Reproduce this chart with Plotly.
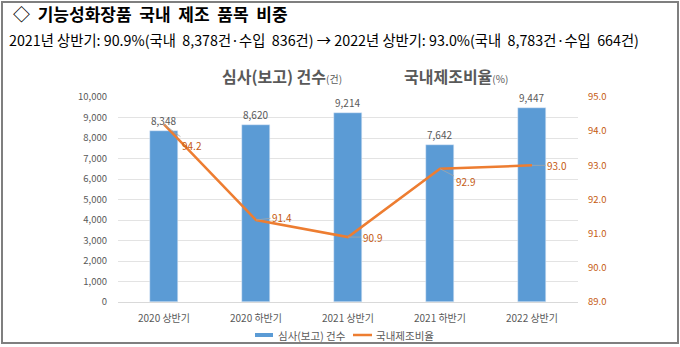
import plotly.graph_objects as go

categories = ["2020 상반기", "2020 하반기", "2021 상반기", "2021 하반기", "2022 상반기"]
counts = [8348, 8620, 9214, 7642, 9447]
ratio = [94.2, 91.4, 90.9, 92.9, 93.0]
# label offsets (px) for the ratio data labels, as placed in the reference
label_dx = [28, 26, 24, 25, 25]
label_dy = [21, -3, 0, 13, 0]

FONT = "Noto Sans CJK KR"
BAR = "#5B9BD5"
LINE = "#ED7D31"
ORANGE_TXT = "#C55A11"
GRAY_TXT = "#595959"

L, R, T, B = 118, 102, 97, 45
PW, PH = 680 - L - R, 347 - T - B
SP2 = "&nbsp;&nbsp;"


def px(x):
    return (x - L) / PW


def py(y):
    return (347 - B - y) / PH


fig = go.Figure()
fig.add_trace(go.Bar(
    x=categories, y=counts, name="심사(보고) 건수",
    marker=dict(color=BAR), width=0.31,
    texttemplate="%{y:,}", textposition="outside",
    textfont=dict(color=GRAY_TXT, size=10, family=FONT),
    cliponaxis=False,
))
fig.add_trace(go.Scatter(
    x=categories, y=ratio, name="국내제조비율", yaxis="y2",
    mode="lines", line=dict(color=LINE, width=2.5),
))

annotations = []
for c, v, dx, dy in zip(categories, ratio, label_dx, label_dy):
    annotations.append(dict(
        x=c, y=v, xref="x", yref="y2", text=f"{v:.1f}",
        showarrow=True, arrowhead=0, arrowwidth=0.8, arrowcolor="#A6A6A6",
        ax=dx, ay=dy, standoff=0,
        font=dict(color=ORANGE_TXT, size=10, family=FONT),
    ))

# header texts
annotations.append(dict(
    xref="paper", yref="paper", x=px(11), y=py(13),
    xanchor="left", yanchor="middle", showarrow=False,
    text="<b>◇" + SP2 + "기능성화장품" + SP2 + "국내" + SP2 + "제조" + SP2 + "품목" + SP2 + "비중</b>",
    font=dict(size=17, color="#000000", family=FONT),
))
annotations.append(dict(
    xref="paper", yref="paper", x=px(7), y=py(40),
    xanchor="left", yanchor="middle", showarrow=False,
    text="2021년 상반기: 90.9%(국내" + SP2 + "8,378건·수입" + SP2 + "836건) → 2022년 상반기: 93.0%(국내"
         + SP2 + "8,783건·수입" + SP2 + "664건)",
    font=dict(size=14.3, color="#000000", family=FONT),
))
annotations.append(dict(
    xref="paper", yref="paper", x=px(220), y=py(76),
    xanchor="left", yanchor="middle", showarrow=False,
    text="<b>심사(보고) 건수</b><span style='font-size:10px'>(건)</span>",
    font=dict(size=16, color=GRAY_TXT, family=FONT),
))
annotations.append(dict(
    xref="paper", yref="paper", x=px(402), y=py(76),
    xanchor="left", yanchor="middle", showarrow=False,
    text="<b>국내제조비율</b><span style='font-size:10px'>(%)</span>",
    font=dict(size=16, color=GRAY_TXT, family=FONT),
))
# legend texts
annotations.append(dict(
    xref="paper", yref="paper", x=px(276), y=py(335),
    xanchor="left", yanchor="middle", showarrow=False,
    text=fig.data[0].name, font=dict(size=10.5, color=GRAY_TXT, family=FONT),
))
annotations.append(dict(
    xref="paper", yref="paper", x=px(374), y=py(335),
    xanchor="left", yanchor="middle", showarrow=False,
    text=fig.data[1].name, font=dict(size=10.5, color=GRAY_TXT, family=FONT),
))

shapes = [
    dict(type="rect", xref="paper", yref="paper",
         x0=px(2), x1=px(678), y0=py(343), y1=py(2),
         line=dict(color="#7F7F7F", width=2), fillcolor="rgba(0,0,0,0)", layer="below"),
    dict(type="rect", xref="paper", yref="paper",
         x0=px(255), x1=px(273), y0=py(337), y1=py(333),
         line=dict(width=0), fillcolor=BAR),
    dict(type="line", xref="paper", yref="paper",
         x0=px(353), x1=px(372), y0=py(335), y1=py(335),
         line=dict(color=LINE, width=2.5)),
]

fig.update_layout(
    width=680, height=347,
    margin=dict(l=L, r=R, t=T, b=B, autoexpand=False),
    paper_bgcolor="white", plot_bgcolor="white",
    font=dict(family=FONT, color=GRAY_TXT, size=10),
    showlegend=False,
    xaxis=dict(showline=True, linecolor="#D9D9D9", tickfont=dict(size=10, color=GRAY_TXT, family=FONT),
               ticks="", automargin=False, ticklabelstandoff=7),
    yaxis=dict(range=[0, 10000], dtick=1000, tickformat=",", gridcolor="#E3E3E3", gridwidth=1,
               zeroline=False, tickfont=dict(size=9.5, color=GRAY_TXT, family=FONT), ticklabelstandoff=10,
               automargin=False),
    yaxis2=dict(range=[89, 95], dtick=1, tickformat=".1f", overlaying="y", side="right", showgrid=False,
                zeroline=False, tickfont=dict(size=9.5, color=ORANGE_TXT, family=FONT), ticklabelstandoff=9,
                automargin=False),
    annotations=annotations,
    shapes=shapes,
    bargap=0,
)

fig.write_html("out.html")
